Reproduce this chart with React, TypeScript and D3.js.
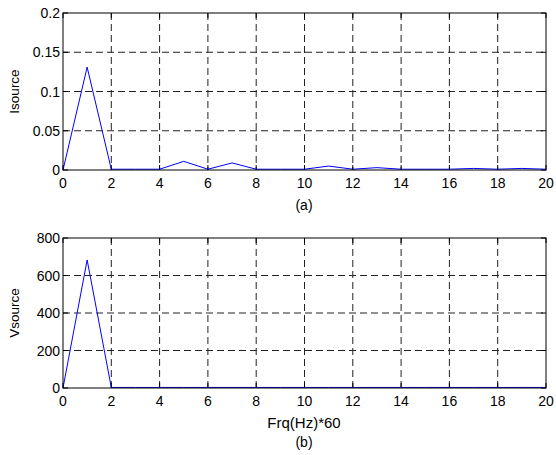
import React from "react";
import * as d3 from "d3";

const harmonics = [0,1,2,3,4,5,6,7,8,9,10,11,12,13,14,15,16,17,18,19,20];
const isourceValues = [0,0.131,0.001,0.001,0.001,0.011,0.001,0.009,0.001,0.001,0.001,0.005,0.001,0.003,0.001,0.001,0.001,0.002,0.001,0.002,0.001];
const vsourceValues = [0,683,3,3,3,3,3,3,3,3,3,3,3,3,3,3,3,3,3,3,3];
const xTicks = [0,2,4,6,8,10,12,14,16,18,20];
const isourceTicks = [0,0.05,0.1,0.15,0.2];
const isourceTickLabels = ["0","0.05","0.1","0.15","0.2"];
const vsourceTicks = [0,200,400,600,800];
const vsourceTickLabels = ["0","200","400","600","800"];

const FONT = "'Liberation Sans', Arial, sans-serif";

type PanelProps = {
  top: number; bottom: number; values: number[]; yMax: number;
  yTicks: number[]; yTickLabels: string[]; yLabel: string;
};

const X0 = 63, X1 = 546;

function Panel({ top, bottom, values, yMax, yTicks, yTickLabels, yLabel }: PanelProps) {
  const x = d3.scaleLinear().domain([0, 20]).range([X0, X1]);
  const y = d3.scaleLinear().domain([0, yMax]).range([bottom, top]);
  const line = d3.line<number>().x((_, i) => x(harmonics[i])).y(d => y(d));
  const tl = 5;
  return (
    <g>
      {xTicks.filter(t => t > 0 && t < 20).map(t => (
        <line key={"gx" + t} x1={x(t)} x2={x(t)} y1={top} y2={bottom} stroke="#222" strokeWidth={1} strokeDasharray="7,4" />
      ))}
      {yTicks.filter(t => t > 0 && t < yMax).map(t => (
        <line key={"gy" + t} x1={X0} x2={X1} y1={y(t)} y2={y(t)} stroke="#222" strokeWidth={1} strokeDasharray="7,4" />
      ))}
      {xTicks.map(t => (
        <g key={"tx" + t}>
          <line x1={x(t)} x2={x(t)} y1={bottom} y2={bottom - tl} stroke="#000" />
          <line x1={x(t)} x2={x(t)} y1={top} y2={top + tl} stroke="#000" />
          <text x={x(t)} y={bottom + 18} textAnchor="middle" fontSize={14} fontFamily={FONT}>{t}</text>
        </g>
      ))}
      {yTicks.map((t, i) => (
        <g key={"ty" + t}>
          <line x1={X0} x2={X0 + tl} y1={y(t)} y2={y(t)} stroke="#000" />
          <line x1={X1} x2={X1 - tl} y1={y(t)} y2={y(t)} stroke="#000" />
          <text x={X0 - 3} y={y(t) + 5} textAnchor="end" fontSize={14} fontFamily={FONT}>{yTickLabels[i]}</text>
        </g>
      ))}
      <path d={line(values) || ""} fill="none" stroke="#0000ff" strokeWidth={1} />
      <rect x={X0} y={top} width={X1 - X0} height={bottom - top} fill="none" stroke="#000" strokeWidth={1} />
      <text transform={`translate(19,${(top + bottom) / 2}) rotate(-90)`} textAnchor="middle" fontSize={13.5} fontFamily={FONT}>{yLabel}</text>
    </g>
  );
}

export default function App() {
  return (
    <svg width={556} height={455} style={{ position: "absolute", left: 0, top: 0, background: "#fff" }}>
      <rect width={556} height={455} fill="#fff" />
      <Panel top={13} bottom={170} values={isourceValues} yMax={0.2} yTicks={isourceTicks} yTickLabels={isourceTickLabels} yLabel="Isource" />
      <text x={304} y={210} textAnchor="middle" fontSize={14} fontFamily={FONT}>(a)</text>
      <Panel top={238} bottom={388} values={vsourceValues} yMax={800} yTicks={vsourceTicks} yTickLabels={vsourceTickLabels} yLabel="Vsource" />
      <text x={304} y={428} textAnchor="middle" fontSize={15} fontFamily={FONT}>Frq(Hz)*60</text>
      <text x={304} y={447} textAnchor="middle" fontSize={14} fontFamily={FONT}>(b)</text>
    </svg>
  );
}
